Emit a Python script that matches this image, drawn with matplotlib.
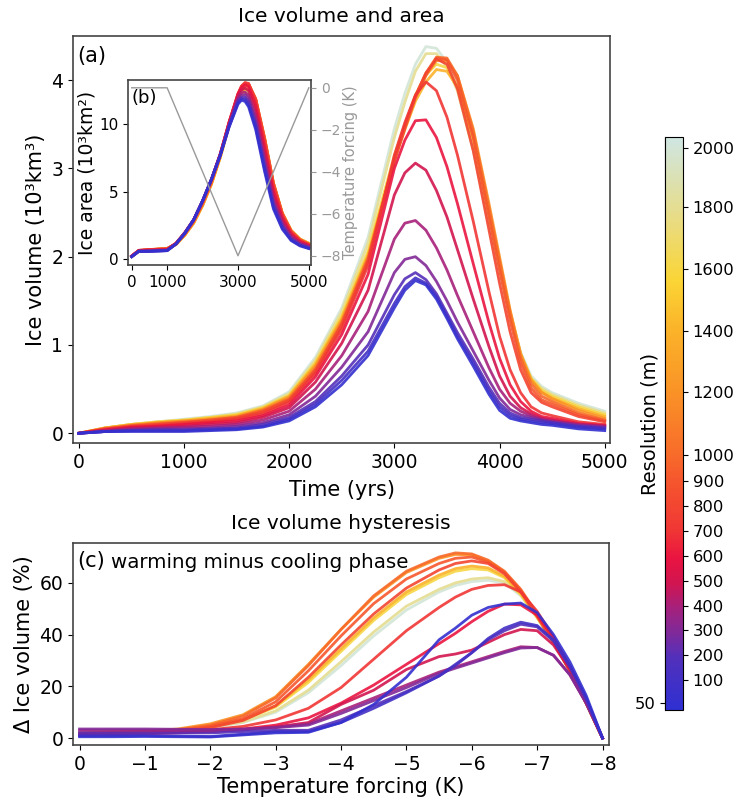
import matplotlib
matplotlib.use("Agg")
import matplotlib.pyplot as plt
import matplotlib.colors as mcolors
import matplotlib.cm as cm
import numpy as np

# Model resolutions (m), one run each
resolution = [50, 100, 200, 300, 400, 500, 600, 700, 800, 900, 1000, 1200, 1400, 1600, 1800, 2000]

# (a) ice volume (10^3 km^3) against time (yrs)
time_a = [0, 250, 500, 750, 1000, 1250, 1500, 1750, 2000, 2250, 2500, 2750, 3000, 3100,
          3200, 3300, 3400, 3500, 3600, 3750, 3900, 4000, 4100, 4200, 4300, 4400, 4500, 4750, 5000]
volume = {
    50:   [0, 0.02, 0.02, 0.02, 0.02, 0.03, 0.04, 0.07, 0.14, 0.30, 0.55, 0.88, 1.42, 1.62, 1.73, 1.68, 1.52, 1.30, 1.07, 0.76, 0.44, 0.26, 0.17, 0.14, 0.12, 0.10, 0.09, 0.05, 0.03],
    100:  [0, 0.02, 0.03, 0.03, 0.03, 0.04, 0.05, 0.08, 0.16, 0.33, 0.60, 0.93, 1.47, 1.66, 1.76, 1.70, 1.55, 1.33, 1.10, 0.80, 0.48, 0.30, 0.20, 0.16, 0.14, 0.12, 0.11, 0.07, 0.05],
    200:  [0, 0.02, 0.03, 0.04, 0.04, 0.05, 0.06, 0.10, 0.18, 0.36, 0.65, 1.00, 1.57, 1.75, 1.82, 1.74, 1.58, 1.36, 1.14, 0.84, 0.52, 0.34, 0.23, 0.18, 0.16, 0.14, 0.12, 0.08, 0.06],
    300:  [0, 0.02, 0.04, 0.05, 0.05, 0.06, 0.08, 0.12, 0.21, 0.42, 0.75, 1.15, 1.82, 1.97, 2.00, 1.90, 1.72, 1.50, 1.26, 0.93, 0.60, 0.40, 0.27, 0.21, 0.18, 0.15, 0.13, 0.09, 0.07],
    400:  [0, 0.03, 0.05, 0.06, 0.07, 0.08, 0.10, 0.15, 0.25, 0.50, 0.88, 1.38, 2.20, 2.38, 2.41, 2.30, 2.10, 1.85, 1.56, 1.15, 0.74, 0.50, 0.34, 0.25, 0.20, 0.16, 0.14, 0.10, 0.08],
    500:  [0, 0.03, 0.06, 0.07, 0.08, 0.10, 0.12, 0.18, 0.29, 0.58, 1.02, 1.62, 2.70, 2.95, 3.06, 2.98, 2.75, 2.45, 2.08, 1.52, 0.98, 0.65, 0.42, 0.29, 0.22, 0.17, 0.15, 0.10, 0.08],
    600:  [0, 0.04, 0.07, 0.08, 0.10, 0.12, 0.14, 0.20, 0.32, 0.64, 1.12, 1.80, 3.00, 3.32, 3.54, 3.55, 3.35, 3.02, 2.60, 1.92, 1.25, 0.85, 0.55, 0.36, 0.25, 0.19, 0.17, 0.11, 0.09],
    700:  [0, 0.04, 0.07, 0.09, 0.11, 0.13, 0.16, 0.22, 0.35, 0.68, 1.18, 1.90, 3.15, 3.52, 3.83, 3.98, 3.88, 3.58, 3.15, 2.40, 1.60, 1.10, 0.72, 0.46, 0.30, 0.23, 0.20, 0.13, 0.10],
    800:  [0, 0.05, 0.08, 0.10, 0.12, 0.14, 0.17, 0.24, 0.37, 0.70, 1.22, 1.95, 3.10, 3.48, 3.82, 4.08, 4.24, 4.18, 3.90, 3.20, 2.30, 1.70, 1.15, 0.72, 0.46, 0.35, 0.30, 0.19, 0.13],
    900:  [0, 0.05, 0.08, 0.10, 0.12, 0.15, 0.18, 0.25, 0.38, 0.72, 1.24, 1.96, 3.08, 3.45, 3.80, 4.06, 4.25, 4.23, 4.00, 3.35, 2.45, 1.85, 1.28, 0.80, 0.51, 0.38, 0.33, 0.21, 0.14],
    1000: [0, 0.05, 0.09, 0.11, 0.13, 0.15, 0.18, 0.26, 0.39, 0.73, 1.25, 1.98, 3.10, 3.47, 3.82, 4.08, 4.26, 4.25, 4.05, 3.42, 2.55, 1.95, 1.36, 0.86, 0.56, 0.42, 0.36, 0.23, 0.15],
    1200: [0, 0.06, 0.09, 0.12, 0.14, 0.16, 0.19, 0.27, 0.41, 0.76, 1.28, 2.00, 3.10, 3.46, 3.80, 4.05, 4.22, 4.22, 4.05, 3.45, 2.60, 2.00, 1.40, 0.90, 0.60, 0.46, 0.39, 0.26, 0.17],
    1400: [0, 0.06, 0.10, 0.12, 0.14, 0.17, 0.20, 0.28, 0.42, 0.78, 1.30, 2.02, 3.10, 3.44, 3.76, 3.98, 4.12, 4.10, 3.92, 3.35, 2.52, 1.95, 1.38, 0.90, 0.61, 0.47, 0.40, 0.28, 0.19],
    1600: [0, 0.06, 0.10, 0.13, 0.15, 0.18, 0.21, 0.29, 0.43, 0.80, 1.33, 2.06, 3.15, 3.50, 3.83, 4.06, 4.18, 4.14, 3.93, 3.32, 2.48, 1.92, 1.36, 0.90, 0.62, 0.49, 0.42, 0.30, 0.21],
    1800: [0, 0.06, 0.10, 0.13, 0.15, 0.18, 0.22, 0.30, 0.45, 0.83, 1.38, 2.15, 3.35, 3.75, 4.10, 4.30, 4.30, 4.15, 3.88, 3.20, 2.38, 1.85, 1.32, 0.90, 0.63, 0.51, 0.44, 0.32, 0.23],
    2000: [0, 0.06, 0.10, 0.13, 0.16, 0.19, 0.23, 0.31, 0.47, 0.86, 1.42, 2.22, 3.45, 3.85, 4.18, 4.38, 4.36, 4.20, 3.92, 3.22, 2.40, 1.88, 1.35, 0.92, 0.65, 0.53, 0.46, 0.34, 0.25],
}

# (b) ice area (10^3 km^2) against time (yrs)
time_b = [0, 200, 500, 1000, 1250, 1500, 1750, 2000, 2250, 2500, 2750, 3000, 3100, 3200,
          3300, 3500, 3750, 4000, 4250, 4500, 4750, 5000]
area = {
    50:   [0.15, 0.55, 0.55, 0.60, 1.10, 1.90, 2.90, 4.30, 5.90, 7.70, 9.80, 11.50, 11.80, 11.70, 11.30, 9.60, 6.50, 3.70, 2.20, 1.35, 0.95, 0.75],
    100:  [0.15, 0.55, 0.55, 0.60, 1.10, 1.90, 2.90, 4.30, 5.90, 7.70, 9.85, 11.60, 11.90, 11.85, 11.45, 9.80, 6.70, 3.85, 2.30, 1.40, 1.00, 0.78],
    200:  [0.15, 0.55, 0.55, 0.60, 1.10, 1.90, 2.90, 4.30, 5.90, 7.70, 9.90, 11.70, 12.00, 12.00, 11.65, 10.00, 6.90, 4.00, 2.40, 1.45, 1.02, 0.80],
    300:  [0.18, 0.55, 0.58, 0.62, 1.10, 1.90, 2.90, 4.30, 5.90, 7.75, 9.95, 11.85, 12.15, 12.20, 11.90, 10.30, 7.20, 4.20, 2.55, 1.55, 1.08, 0.85],
    400:  [0.18, 0.58, 0.60, 0.64, 1.10, 1.90, 2.90, 4.30, 5.90, 7.75, 10.00, 12.00, 12.35, 12.40, 12.15, 10.60, 7.50, 4.45, 2.70, 1.65, 1.15, 0.90],
    500:  [0.20, 0.60, 0.62, 0.66, 1.12, 1.90, 2.90, 4.30, 5.90, 7.80, 10.10, 12.15, 12.55, 12.70, 12.50, 11.00, 7.90, 4.75, 2.90, 1.75, 1.22, 0.95],
    600:  [0.20, 0.60, 0.64, 0.68, 1.15, 1.95, 2.90, 4.30, 5.90, 7.80, 10.15, 12.25, 12.75, 12.95, 12.80, 11.40, 8.30, 5.05, 3.05, 1.85, 1.28, 1.00],
    700:  [0.20, 0.62, 0.66, 0.70, 1.15, 1.95, 2.90, 4.25, 5.85, 7.80, 10.20, 12.30, 12.85, 13.10, 13.00, 11.70, 8.60, 5.30, 3.20, 1.95, 1.32, 1.02],
    800:  [0.20, 0.62, 0.68, 0.72, 1.15, 1.90, 2.85, 4.20, 5.80, 7.75, 10.15, 12.25, 12.85, 13.10, 13.05, 11.85, 8.85, 5.50, 3.30, 2.00, 1.38, 1.05],
    900:  [0.20, 0.62, 0.68, 0.74, 1.12, 1.85, 2.80, 4.15, 5.75, 7.70, 10.10, 12.20, 12.75, 13.00, 13.00, 11.90, 8.95, 5.60, 3.35, 2.05, 1.40, 1.08],
    1000: [0.18, 0.60, 0.68, 0.75, 1.10, 1.80, 2.75, 4.05, 5.65, 7.65, 10.05, 12.10, 12.65, 12.95, 12.95, 11.90, 9.00, 5.65, 3.40, 2.08, 1.42, 1.10],
    1200: [0.18, 0.58, 0.68, 0.76, 1.08, 1.78, 2.70, 4.00, 5.60, 7.60, 10.00, 12.00, 12.55, 12.85, 12.85, 11.85, 9.00, 5.65, 3.40, 2.10, 1.45, 1.12],
    1400: [0.16, 0.56, 0.66, 0.76, 1.05, 1.75, 2.65, 3.95, 5.55, 7.55, 9.95, 11.90, 12.40, 12.65, 12.65, 11.70, 8.90, 5.60, 3.40, 2.10, 1.46, 1.14],
    1600: [0.16, 0.55, 0.66, 0.76, 1.05, 1.75, 2.65, 3.95, 5.55, 7.55, 9.90, 11.85, 12.35, 12.55, 12.55, 11.60, 8.80, 5.55, 3.38, 2.10, 1.46, 1.15],
    1800: [0.15, 0.54, 0.65, 0.76, 1.05, 1.75, 2.65, 3.95, 5.55, 7.55, 9.90, 11.80, 12.25, 12.40, 12.35, 11.40, 8.65, 5.45, 3.32, 2.08, 1.45, 1.15],
    2000: [0.15, 0.54, 0.64, 0.75, 1.05, 1.75, 2.65, 3.95, 5.55, 7.50, 9.85, 11.70, 12.15, 12.30, 12.20, 11.25, 8.50, 5.35, 3.28, 2.05, 1.44, 1.15],
}

# temperature forcing applied over the run
forcing_time = [0, 1000, 3000, 5000]
forcing = [0, 0, -8, 0]

# (c) warming minus cooling ice volume (%) against temperature forcing (K)
forcing_c = [0, -0.5, -1, -1.5, -2, -2.5, -3, -3.5, -4, -4.5, -5, -5.5, -5.75, -6,
             -6.25, -6.5, -6.75, -7, -7.25, -7.5, -7.75, -8]
hysteresis = {
    50:   [0.5, 0.5, 0.6, 0.5, 0.4, 1.2, 2.0, 2.2, 6.0, 13.0, 23.5, 38.0, 42.5, 47.5, 50.5, 51.8, 52.2, 48.5, 40.0, 29.5, 16.5, 0],
    100:  [1.0, 1.0, 1.0, 0.8, 0.6, 1.5, 2.5, 2.5, 6.0, 11.5, 17.5, 24.0, 28.5, 33.0, 38.5, 42.5, 44.8, 43.5, 38.0, 28.0, 15.5, 0],
    200:  [2.0, 2.0, 2.0, 2.0, 2.0, 2.5, 3.0, 3.0, 7.0, 12.5, 18.0, 24.0, 28.0, 33.0, 38.0, 41.5, 44.0, 43.0, 37.5, 27.5, 15.0, 0],
    300:  [3.5, 3.5, 3.5, 3.4, 3.3, 3.5, 4.0, 5.0, 9.5, 14.5, 19.5, 25.0, 27.0, 29.0, 31.0, 33.0, 34.8, 35.0, 32.0, 24.5, 13.5, 0],
    400:  [3.0, 3.0, 3.0, 3.0, 3.0, 3.3, 4.2, 5.5, 10.5, 15.5, 20.5, 25.5, 27.5, 29.5, 31.5, 33.5, 35.3, 35.0, 32.0, 24.5, 13.5, 0],
    500:  [1.0, 1.3, 1.6, 2.0, 2.5, 3.2, 4.3, 6.0, 13.0, 18.5, 26.5, 31.5, 32.5, 34.0, 37.0, 40.0, 42.0, 41.5, 36.0, 26.5, 14.0, 0],
    600:  [1.5, 1.8, 2.0, 2.3, 2.6, 3.5, 5.0, 7.8, 13.5, 20.5, 28.5, 36.5, 40.5, 45.0, 49.0, 51.8, 51.5, 47.5, 39.0, 27.5, 14.5, 0],
    700:  [2.0, 2.3, 2.6, 2.8, 3.2, 4.5, 7.0, 11.5, 19.5, 30.5, 41.5, 50.5, 54.5, 57.5, 59.0, 59.3, 56.5, 49.0, 39.0, 27.5, 14.5, 0],
    800:  [1.0, 1.4, 1.8, 2.5, 4.0, 6.8, 12.5, 23.5, 36.0, 48.0, 58.0, 65.0, 67.5, 68.5, 67.5, 63.5, 56.5, 47.0, 37.0, 26.0, 13.5, 0],
    900:  [1.2, 1.6, 2.0, 2.8, 4.5, 7.5, 14.0, 26.0, 39.5, 52.0, 61.5, 67.5, 69.5, 70.0, 68.0, 64.0, 57.0, 47.5, 37.5, 26.0, 13.5, 0],
    1000: [1.5, 2.0, 2.5, 3.2, 5.0, 8.5, 15.5, 28.0, 42.0, 55.0, 64.5, 70.0, 71.6, 71.2, 68.8, 64.5, 57.5, 48.0, 38.0, 26.5, 14.0, 0],
    1200: [1.8, 2.2, 2.7, 3.5, 5.5, 9.0, 16.0, 28.5, 42.0, 54.5, 64.0, 69.5, 71.0, 70.8, 68.5, 64.2, 57.0, 47.5, 37.5, 26.0, 13.5, 0],
    1400: [1.5, 2.0, 2.5, 3.0, 4.5, 7.0, 12.5, 22.5, 34.5, 46.5, 56.5, 63.0, 65.5, 66.5, 65.8, 62.5, 56.0, 47.0, 37.0, 26.0, 13.5, 0],
    1600: [1.6, 2.1, 2.6, 3.0, 4.5, 7.0, 12.0, 21.5, 33.5, 45.5, 55.5, 62.0, 64.5, 65.5, 65.0, 62.0, 55.5, 46.5, 37.0, 26.0, 13.5, 0],
    1800: [1.8, 2.2, 2.6, 3.0, 4.2, 6.2, 10.5, 18.5, 29.5, 41.0, 51.0, 57.5, 60.0, 61.5, 62.0, 60.5, 55.5, 47.0, 37.0, 26.0, 13.5, 0],
    2000: [2.0, 2.3, 2.7, 3.0, 4.0, 6.0, 10.0, 17.5, 28.0, 39.5, 49.5, 56.5, 59.0, 60.5, 61.0, 60.0, 55.0, 46.5, 37.0, 26.0, 13.5, 0],
}

# colour bar: tick values and where they sit along the bar (fraction of its length)
cbar_ticks = [50, 100, 200, 300, 400, 500, 600, 700, 800, 900, 1000, 1200, 1400, 1600, 1800, 2000]
cbar_frac = [0, 0.042, 0.086, 0.131, 0.175, 0.22, 0.264, 0.31, 0.355, 0.40, 0.446, 0.56, 0.67, 0.782, 0.894, 1.0]

cmap = mcolors.LinearSegmentedColormap.from_list("res", [
    (0.00, "#2f30d2"), (0.09, "#5230bb"), (0.13, "#7c2a9c"), (0.18, "#a8207a"),
    (0.22, "#d11550"), (0.265, "#ea1440"), (0.31, "#f03535"), (0.40, "#f6562d"),
    (0.45, "#f86d2a"), (0.56, "#fa9426"), (0.67, "#fbb52a"), (0.75, "#fbd535"),
    (0.86, "#e8dc85"), (1.00, "#cfe6e2")])
norm = mcolors.Normalize(-0.013, 1.02)


def res_colour(r):
    return cmap(norm(np.interp(r, cbar_ticks, cbar_frac)))


fig = plt.figure(figsize=(7.36, 8.05), dpi=100)
ax = fig.add_axes([0.0992, 0.4497, 0.7296, 0.5056])
axc = fig.add_axes([0.0992, 0.0745, 0.7283, 0.2509])
axb = fig.add_axes([0.1739, 0.6708, 0.2486, 0.2298])
cax = fig.add_axes([0.9035, 0.118, 0.0245, 0.7118])

frame = "#444444"
for a in (ax, axc, axb):
    for s in a.spines.values():
        s.set_color(frame)
        s.set_linewidth(1.2)

order = resolution[::-1]

# (a) volume
for r in order:
    ax.plot(time_a, volume[r], color=res_colour(r), lw=2, alpha=0.9)
ax.set_xlim(-55, 5050)
ax.set_ylim(-0.11, 4.5)
ax.set_xticks([0, 1000, 2000, 3000, 4000, 5000])
ax.set_yticks([0, 1, 2, 3, 4])
ax.tick_params(labelsize=13.5)
ax.set_xlabel("Time (yrs)", fontsize=15, labelpad=6)
ax.set_ylabel("Ice volume (10³km³)", fontsize=15)
ax.set_title("Ice volume and area", fontsize=14.5, pad=10)
ax.text(0.008, 0.975, "(a)", transform=ax.transAxes, fontsize=15, va="top", ha="left")

# (b) inset area with forcing on a twin axis
for r in order:
    axb.plot(time_b, area[r], color=res_colour(r), lw=2, alpha=0.9)
axb.set_xlim(-105, 5060)
axb.set_ylim(-0.47, 13.3)
axb.set_xticks([0, 1000, 3000, 5000])
axb.set_yticks([0, 5, 10])
axb.tick_params(labelsize=11)
axb.set_ylabel("Ice area (10³km²)", fontsize=13.5, labelpad=2)
axb.text(0.02, 0.95, "(b)", transform=axb.transAxes, fontsize=13, va="top", ha="left")

axt = axb.twinx()
axt.plot(forcing_time, forcing, color="#999999", lw=1)
axt.set_ylim(-8.44, 0.37)
axt.set_yticks([0, -2, -4, -6, -8])
axt.tick_params(axis="y", colors="#999999", labelsize=10)
axt.set_ylabel("Temperature forcing (K)", fontsize=10.5, color="#999999", labelpad=1)
for s in axt.spines.values():
    s.set_visible(False)

# (c) hysteresis
for r in order:
    axc.plot(forcing_c, hysteresis[r], color=res_colour(r), lw=2, alpha=0.9)
axc.set_xlim(0.1, -8.1)
axc.set_ylim(-2.7, 75.4)
axc.set_xticks(range(0, -9, -1))
axc.set_yticks([0, 20, 40, 60])
axc.tick_params(labelsize=13.5)
axc.set_xlabel("Temperature forcing (K)", fontsize=15, labelpad=2)
axc.set_ylabel("Δ Ice volume (%)", fontsize=15)
axc.set_title("Ice volume hysteresis", fontsize=14.5, pad=10)
axc.text(0.008, 0.96, "(c)", transform=axc.transAxes, fontsize=15, va="top", ha="left")
axc.text(0.07, 0.95, "warming minus cooling phase", transform=axc.transAxes,
         fontsize=14.3, va="top", ha="left")

# colour bar
sm = cm.ScalarMappable(norm=norm, cmap=cmap)
cbar = fig.colorbar(sm, cax=cax)
cbar.set_ticks(cbar_frac[1:], labels=[str(v) for v in cbar_ticks[1:]])
cbar.ax.tick_params(labelsize=11.8)
sec = cax.secondary_yaxis("left")
sec.set_yticks([cbar_frac[0]], labels=[str(cbar_ticks[0])])
sec.tick_params(labelsize=11.8)
cax.set_ylabel("Resolution (m)", fontsize=14)
cax.yaxis.set_label_position("left")
cax.yaxis.set_label_coords(-0.3, 0.5)

fig.savefig("out.png", dpi=100)
